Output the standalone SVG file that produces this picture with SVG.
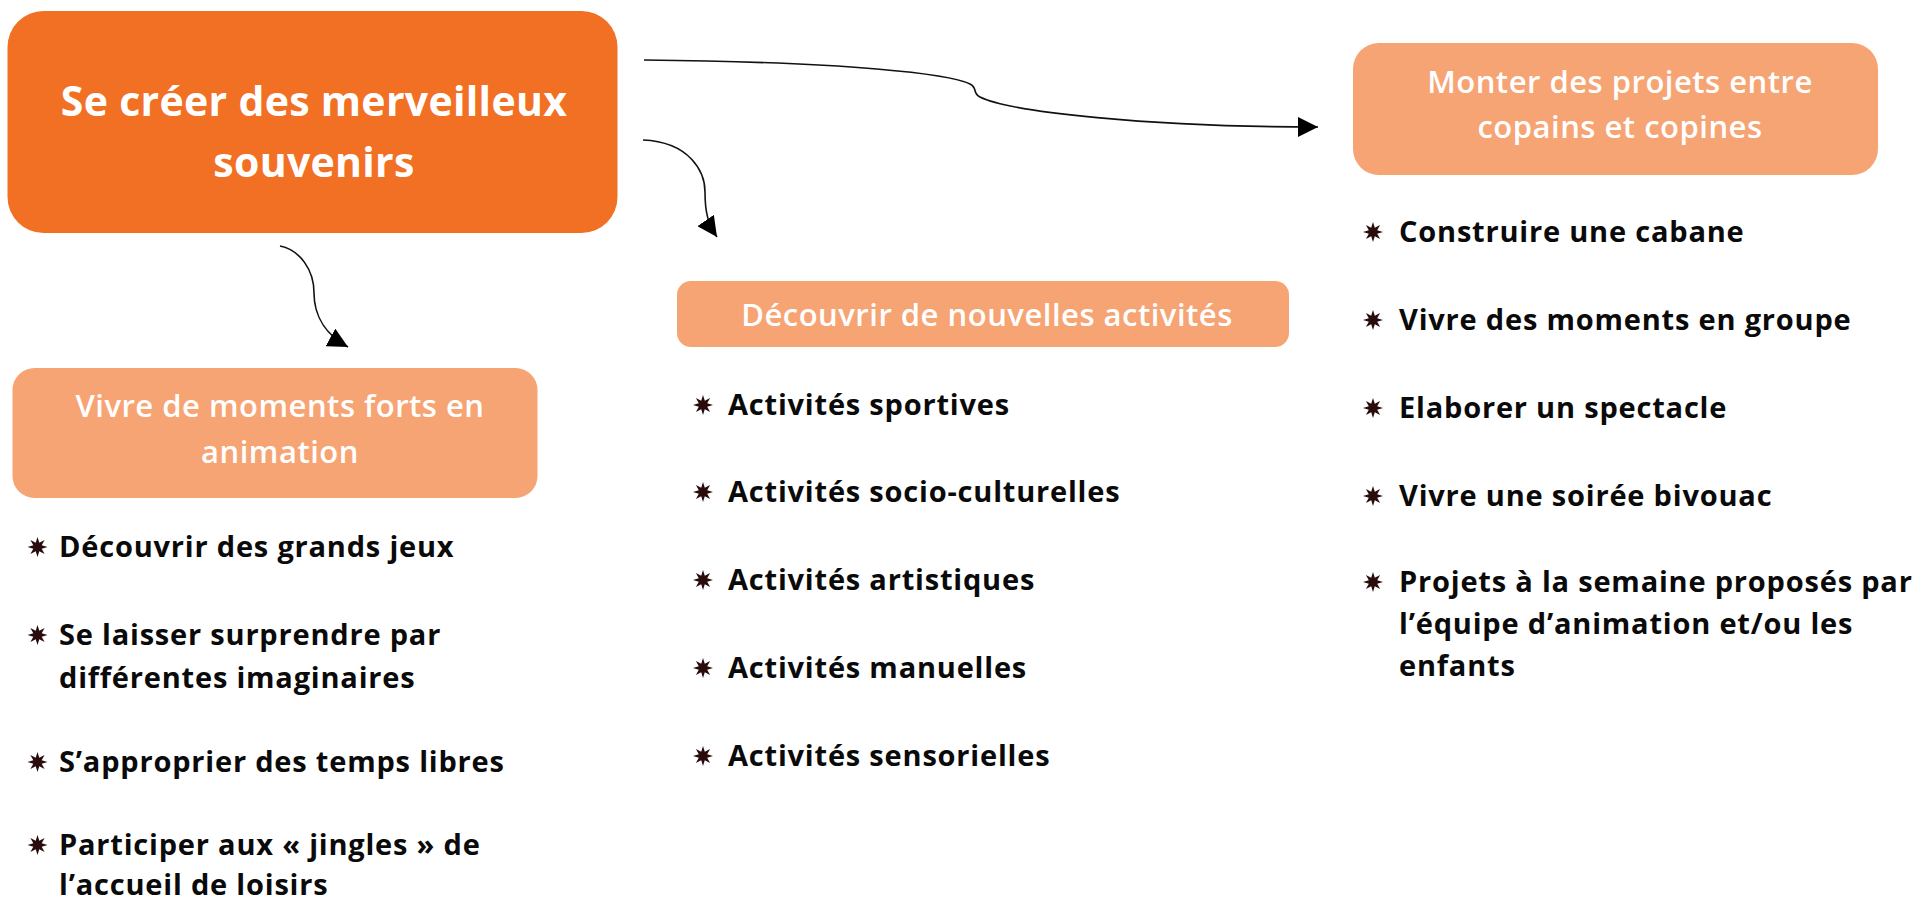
<svg xmlns="http://www.w3.org/2000/svg" width="1928" height="903" viewBox="0 0 1928 903">
<style>
.main{fill:#F27024}
.sub{fill:#F7A475}
.t-main{font-family:"Open Sans","Liberation Sans",sans-serif;font-weight:700;font-size:41px;letter-spacing:0.3px;fill:#fff;text-anchor:middle}
.t-sub{font-family:"Open Sans","Liberation Sans",sans-serif;font-weight:600;font-size:31px;letter-spacing:0.5px;fill:#fff;text-anchor:middle}
.t-item{font-family:"Open Sans","Liberation Sans",sans-serif;font-weight:700;font-size:29px;letter-spacing:0.8px;fill:#0a0a0a}
.conn{fill:none;stroke:#111;stroke-width:1.6}
.star{fill:#2a0c0c}
</style>
<defs>
<marker id="ah" markerUnits="userSpaceOnUse" markerWidth="24" markerHeight="20" refX="20" refY="10" orient="auto">
<path d="M0,0 L20,10 L0,20 Z" fill="#000"/>
</marker>
<polygon id="b" class="star" points="0,-10 1.8,-4.2 7.1,-7.1 4.2,-1.8 10,0 4.2,1.8 7.1,7.1 1.8,4.2 0,10 -1.8,4.2 -7.1,7.1 -4.2,1.8 -10,0 -4.2,-1.8 -7.1,-7.1 -1.8,-4.2"/>
</defs>
<rect width="1928" height="903" fill="#fff"/>
<g id="connectors">
<path class="conn" marker-end="url(#ah)" d="M644,60 C850,62 950,74 970,84 C978,88 972,93 980,97 C1010,112 1150,127 1318,127"/>
<path class="conn" marker-end="url(#ah)" d="M643,140 C690,142 705,172 705,192 C705,212 708,224 717,237"/>
<path class="conn" marker-end="url(#ah)" d="M280,246 C300,250 314,270 314,293 C314,318 328,336 348,347"/>
</g>
<g id="node-main">
<rect class="main" x="7.5" y="11" width="610" height="222" rx="36"/>
<text class="t-main" x="314" y="116">Se créer des merveilleux</text>
<text class="t-main" x="314" y="177">souvenirs</text>
</g>
<g id="node-moments">
<rect class="sub" x="12.5" y="368" width="525" height="130" rx="22"/>
<text class="t-sub" x="280" y="417">Vivre de moments forts en</text>
<text class="t-sub" x="280" y="463">animation</text>
</g>
<g id="node-activites">
<rect class="sub" x="677" y="281" width="612" height="66" rx="14"/>
<text class="t-sub" x="987" y="326">Découvrir de nouvelles activités</text>
</g>
<g id="node-projets">
<rect class="sub" x="1353" y="43" width="525" height="132" rx="26"/>
<text class="t-sub" x="1620" y="93">Monter des projets entre</text>
<text class="t-sub" x="1620" y="138">copains et copines</text>
</g>
<g id="list-moments">
<use href="#b" x="37.5" y="547"/><text class="t-item" x="59" y="557">Découvrir des grands jeux</text>
<use href="#b" x="37.5" y="635"/><text class="t-item" x="59" y="645">Se laisser surprendre par</text>
<text class="t-item" x="59" y="688">différentes imaginaires</text>
<use href="#b" x="37.5" y="762"/><text class="t-item" x="59" y="772">S’approprier des temps libres</text>
<use href="#b" x="37.5" y="845"/><text class="t-item" x="59" y="855">Participer aux « jingles » de</text>
<text class="t-item" x="59" y="895">l’accueil de loisirs</text>
</g>
<g id="list-activites">
<use href="#b" x="703" y="405"/><text class="t-item" x="728" y="415">Activités sportives</text>
<use href="#b" x="703" y="492"/><text class="t-item" x="728" y="502">Activités socio-culturelles</text>
<use href="#b" x="703" y="580"/><text class="t-item" x="728" y="590">Activités artistiques</text>
<use href="#b" x="703" y="668"/><text class="t-item" x="728" y="678">Activités manuelles</text>
<use href="#b" x="703" y="756"/><text class="t-item" x="728" y="766">Activités sensorielles</text>
</g>
<g id="list-projets">
<use href="#b" x="1373" y="232"/><text class="t-item" x="1399" y="242">Construire une cabane</text>
<use href="#b" x="1373" y="320"/><text class="t-item" x="1399" y="330">Vivre des moments en groupe</text>
<use href="#b" x="1373" y="408"/><text class="t-item" x="1399" y="418">Elaborer un spectacle</text>
<use href="#b" x="1373" y="496"/><text class="t-item" x="1399" y="506">Vivre une soirée bivouac</text>
<use href="#b" x="1373" y="582"/><text class="t-item" x="1399" y="592">Projets à la semaine proposés par</text>
<text class="t-item" x="1399" y="634">l’équipe d’animation et/ou les</text>
<text class="t-item" x="1399" y="676">enfants</text>
</g>
</svg>
